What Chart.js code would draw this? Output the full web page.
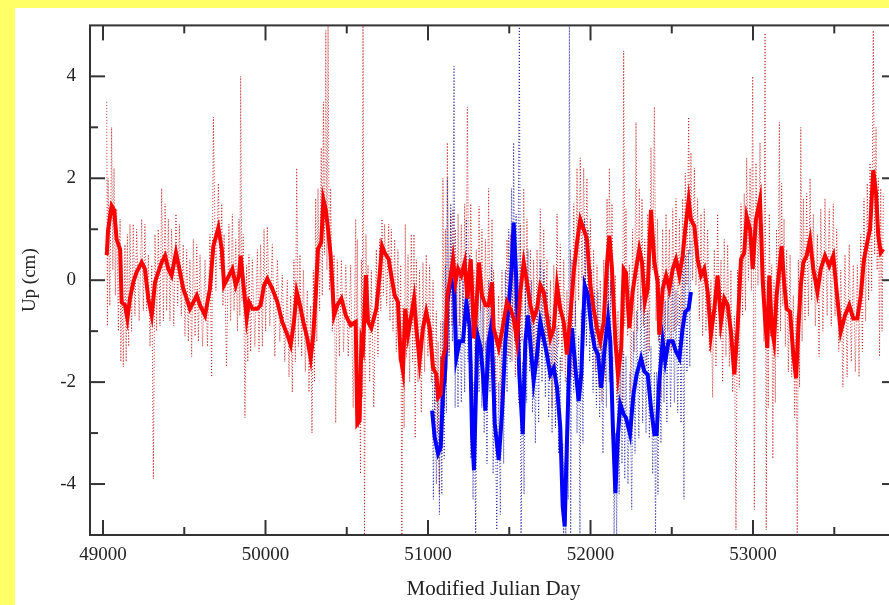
<!DOCTYPE html>
<html>
<head>
<meta charset="utf-8">
<script src="https://cdn.jsdelivr.net/npm/chart.js@4.4.1/dist/chart.umd.min.js"></script>
<style>
    html, body { margin: 0; padding: 0; width: 889px; height: 605px; overflow: hidden; background: #ffff66; }
    #panel { position: absolute; left: 15px; top: 8px; width: 895px; height: 597px; background: #ffffff; }
</style>
</head>
<body>
<div id="panel"><canvas id="upChart"></canvas></div>
<script>
// smoothed Up series (red), MJD / cm
const redDays = [
    49023, 49031, 49053, 49068, 49084, 49105, 49115, 49135, 49150, 49166,
    49186, 49207, 49238, 49258, 49279, 49300, 49320, 49340, 49361, 49382,
    49402, 49422, 49449, 49470, 49494, 49515, 49535, 49556, 49577, 49597,
    49628, 49658, 49679, 49710, 49731, 49745, 49775, 49796, 49817, 49837,
    49847, 49863, 49884, 49898, 49919, 49950, 49970, 49991, 50011, 50042,
    50073, 50103, 50134, 50155, 50175, 50192, 50212, 50233, 50257, 50278,
    50294, 50309, 50323, 50343, 50356, 50371, 50385, 50401, 50422, 50442,
    50467, 50494, 50524, 50555, 50565, 50579, 50590, 50600, 50618, 50631,
    50651, 50682, 50702, 50717, 50733, 50758, 50774, 50795, 50815, 50832,
    50846, 50860, 50877, 50897, 50914, 50928, 50948, 50969, 50989, 51010,
    51031, 51051, 51062, 51078, 51092, 51107, 51119, 51140, 51154, 51169,
    51185, 51205, 51226, 51242, 51263, 51283, 51297, 51314, 51332, 51353,
    51373, 51394, 51404, 51435, 51455, 51486, 51507, 51527, 51548, 51568,
    51589, 51609, 51630, 51650, 51671, 51691, 51712, 51732, 51753, 51774,
    51794, 51814, 51835, 51855, 51876, 51897, 51917, 51937, 51958, 51978,
    51999, 52019, 52040, 52060, 52081, 52102, 52116, 52132, 52153, 52169,
    52189, 52204, 52218, 52239, 52259, 52280, 52300, 52317, 52334, 52352,
    52372, 52393, 52413, 52423, 52444, 52465, 52485, 52506, 52526, 52547,
    52567, 52583, 52604, 52618, 52639, 52659, 52680, 52700, 52721, 52741,
    52762, 52782, 52803, 52823, 52844, 52864, 52885, 52905, 52926, 52946,
    52961, 52982, 52998, 53018, 53043, 53060, 53074, 53088, 53100, 53115,
    53129, 53145, 53162, 53176, 53191, 53207, 53228, 53248, 53265, 53279,
    53294, 53310, 53330, 53351, 53371, 53396, 53417, 53443, 53469, 53494,
    53515, 53540, 53566, 53592, 53617, 53642, 53663, 53683, 53703, 53720,
    53740, 53757, 53771, 53786, 53802
];
const redUp = [
    0.49, 0.97, 1.46, 1.38, 0.80, 0.61, -0.43, -0.49, -0.75, -0.36,
    -0.04, 0.16, 0.35, 0.22, -0.36, -0.69, -0.04, 0.16, 0.35, 0.48,
    0.22, 0.09, 0.54, 0.22, -0.17, -0.36, -0.56, -0.43, -0.30, -0.49,
    -0.69, -0.17, 0.67, 1.03, 0.61, -0.10, 0.09, 0.22, -0.10, 0.09,
    0.48, -0.04, -0.75, -0.43, -0.56, -0.56, -0.49, -0.10, 0.03, -0.17,
    -0.43, -0.82, -1.07, -1.27, -0.82, -0.23, -0.49, -0.82, -1.14, -1.53,
    -1.07, -0.30, 0.61, 0.74, 1.58, 1.38, 1.00, 0.48, -0.69, -0.49,
    -0.36, -0.69, -0.88, -0.82, -2.82, -2.76, -1.20, -1.33, 0.10, -0.82,
    -0.94, -0.56, 0.09, 0.67, 0.54, 0.41, 0.09, -0.30, -0.43, -1.53,
    -1.79, -0.56, -1.07, -0.69, -0.36, -0.94, -1.59, -0.94, -0.62, -0.94,
    -1.72, -1.85, -2.30, -2.24, -1.53, -1.33, -0.30, 0.09, 0.41, -0.04,
    0.22, 0.09, 0.35, -0.36, 0.41, -1.14, -0.56, 0.35, -0.30, -0.49,
    -0.49, -0.04, -0.94, -1.33, -1.01, -0.43, -0.56, -0.75, -1.20, -0.23,
    0.35, -0.04, -0.49, -0.75, -0.56, -0.10, -0.23, -0.69, -1.14, -0.94,
    -0.10, -0.56, -0.82, -1.46, -0.69, 0.16, 0.74, 1.19, 1.00, 0.80,
    -0.10, -0.56, -0.94, -1.20, -0.82, 0.35, 0.87, 0.22, -1.20, -1.85,
    -1.33, 0.22, 0.15, -0.94, -0.23, 0.22, 0.61, 0.35, -0.43, -0.17,
    1.38, 0.35, -0.04, -1.07, -0.17, 0.09, -0.17, 0.22, 0.41, 0.09,
    0.48, 1.00, 1.58, 1.19, 1.06, 0.41, 0.09, 0.22, -0.23, -1.07,
    -0.56, 0.09, -0.82, -0.36, -0.49, -1.01, -1.85, -0.94, 0.41, 0.54,
    1.25, 1.00, 0.22, 1.19, 1.58, -0.04, -0.75, -1.33, 0.09, -0.94,
    -1.20, -0.30, 0.22, 0.67, -0.04, -0.56, -0.62, -1.46, -1.92, -0.94,
    -0.10, 0.35, 0.48, 0.80, 0.22, -0.23, 0.22, 0.48, 0.28, 0.48,
    -0.23, -1.01, -0.69, -0.49, -0.75, -0.75, -0.30, 0.41, 0.74, 1.00,
    2.16, 1.71, 0.87, 0.54, 0.61
];
// daily scatter of the red series: upper and lower excursions
const redHi = [
    3.5, 2.0, 3.0, 2.2, 1.4, 1.2, 0.6, 0.7, 0.9, 1.1,
    1.1, 1.0, 1.2, 1.1, 0.5, 0.3, 0.9, 1.0, 1.8, 1.5,
    1.2, 1.0, 1.3, 1.1, 0.7, 0.6, 0.4, 0.8, 0.7, 0.5,
    0.4, 0.9, 3.2, 1.9, 1.5, 0.9, 1.1, 1.3, 0.8, 1.2,
    4.0, 0.9, 0.3, 0.5, 0.4, 0.6, 0.7, 1.0, 1.05, 0.7,
    0.4, 0.1, 0.0, -0.3, 0.4, 2.2, 0.5, 0.2, -0.2, -0.5,
    0.2, 1.6, 1.8, 2.6, 3.5, 4.9, 5.0, 1.8, 0.5, 0.4,
    0.4, 0.3, 0.3, 1.2, 0.8, -1.5, 0.4, 5.0, 0.9, 0.3,
    0.2, 0.6, 0.8, 1.2, 1.1, 1.1, 1.0, 0.8, 0.6, 0.3,
    -0.5, 1.1, 0.5, 0.9, 0.9, 0.4, 0.2, 0.35, 0.5, 0.3,
    0.0, -0.6, -1.2, -0.8, 2.0, 1.0, 2.7, 1.3, 1.4, 1.0,
    1.3, 1.1, 1.5, 3.4, 1.5, 0.2, 0.6, 1.45, 1.0, 0.8,
    1.8, 1.2, 0.2, -0.3, 0.2, 0.8, 0.9, 0.5, 0.2, 1.1,
    1.8, 1.2, 0.6, 0.4, 0.6, 1.4, 1.0, 0.4, 0.0, 0.3,
    1.3, 0.7, 0.4, -0.2, 0.6, 1.5, 2.2, 2.4, 2.2, 2.0,
    1.2, 0.6, 0.3, 0.0, 0.4, 1.6, 2.2, 1.5, 0.1, -0.6,
    -0.2, 4.5, 1.4, 0.3, 1.0, 3.1, 1.8, 1.6, 0.8, 1.3,
    2.6, 3.4, 1.2, 0.1, 1.0, 1.3, 1.0, 1.4, 1.6, 1.2,
    1.6, 2.1, 3.2, 2.5, 2.2, 1.6, 1.3, 1.4, 1.0, 0.0,
    0.6, 1.3, 0.4, 0.8, 0.7, 0.2, -0.7, 0.2, 1.5, 1.7,
    2.4, 2.2, 4.0, 2.3, 2.7, 1.1, 4.85, 0.0, 1.3, 0.3,
    0.0, 1.0, 3.1, 1.9, 1.2, 0.6, 0.5, -0.3, -0.7, 0.4,
    3.0, 1.6, 1.7, 2.0, 1.3, 0.9, 1.4, 1.6, 1.4, 1.5,
    1.0, 0.2, 0.5, 0.7, 0.3, 0.3, 0.9, 1.6, 1.9, 2.3,
    4.9, 3.0, 2.0, 1.8, 1.7
];
const redLo = [
    -0.9, -0.5, 0.2, -0.3, -1.0, -1.6, -1.7, -1.6, -1.3, -1.0,
    -0.7, -0.8, -0.6, -0.6, -1.3, -3.9, -1.0, -0.9, -0.8, -0.6,
    -0.8, -0.9, -0.5, -0.7, -1.1, -1.2, -1.5, -1.1, -1.2, -1.3,
    -1.3, -1.9, -0.2, 0.2, -0.5, -1.7, -0.8, -0.6, -1.0, -0.7,
    -0.4, -2.7, -1.6, -1.4, -1.3, -1.4, -1.3, -1.0, -0.9, -1.5,
    -1.2, -1.6, -1.9, -2.2, -1.6, -1.3, -1.5, -1.8, -2.2, -3.0,
    -2.0, -1.2, -0.6, -0.3, 0.5, 0.2, -0.2, -1.0, -2.8, -1.5,
    -1.4, -1.5, -2.5, -1.8, -2.9, -3.8, -2.3, -5.0, -0.8, -2.0,
    -2.5, -1.5, -0.6, -0.3, -0.5, -0.8, -1.0, -1.4, -1.6, -5.0,
    -2.9, -1.5, -2.0, -1.6, -3.1, -2.0, -2.6, -1.8, -1.5, -2.0,
    -2.8, -3.0, -4.2, -3.4, -2.5, -2.0, -1.4, -0.9, -0.8, -1.2,
    -0.9, -1.1, -0.9, -1.3, -0.7, -2.3, -1.6, -0.6, -1.4, -1.7,
    -1.6, -1.5, -2.5, -2.6, -2.1, -1.5, -1.6, -1.9, -2.4, -1.2,
    -0.9, -1.2, -1.6, -1.9, -1.7, -1.2, -1.4, -1.9, -2.5, -2.1,
    -1.3, -1.8, -2.0, -2.7, -1.9, -0.9, -0.4, 0.0, -0.2, -0.6,
    -1.2, -1.8, -2.1, -2.4, -2.0, -0.8, -0.3, -1.0, -2.4, -3.2,
    -2.6, -0.9, -1.1, -2.2, -1.4, -1.0, -0.6, -0.9, -1.7, -1.4,
    0.2, -0.8, -1.2, -2.3, -1.3, -1.0, -1.4, -1.0, -0.9, -1.2,
    -0.7, -0.1, 0.5, 0.0, -0.1, -0.8, -1.1, -1.0, -1.4, -2.3,
    -1.7, -1.1, -2.0, -1.5, -1.7, -2.2, -4.9, -2.1, -0.7, -0.6,
    0.0, -0.2, -4.5, -0.1, 0.4, -1.2, -4.9, -2.5, -1.1, -3.5,
    -2.4, -1.5, -1.0, -0.5, -1.3, -1.8, -1.9, -2.7, -5.0, -2.1,
    -1.2, -0.8, -0.7, -0.4, -0.9, -1.5, -1.0, -0.7, -0.9, -0.7,
    -1.4, -2.1, -1.9, -1.6, -1.8, -1.9, -1.4, -0.8, -0.4, -0.2,
    0.5, 0.2, -1.5, -1.0, -0.5
];

// second series (blue), shorter span
const blueDays = [
    51025, 51041, 51062, 51078, 51092, 51107, 51119, 51140, 51160, 51174,
    51195, 51215, 51236, 51257, 51271, 51283, 51304, 51324, 51338, 51353,
    51373, 51390, 51411, 51435, 51455, 51476, 51497, 51514, 51527, 51542,
    51562, 51583, 51599, 51615, 51636, 51650, 51671, 51691, 51712, 51732,
    51753, 51774, 51794, 51814, 51829, 51841, 51855, 51870, 51886, 51907,
    51927, 51943, 51964, 51985, 52005, 52026, 52046, 52066, 52087, 52108,
    52122, 52137, 52153, 52169, 52183, 52204, 52218, 52243, 52264, 52284,
    52311, 52331, 52352, 52372, 52393, 52407, 52423, 52444, 52460, 52480,
    52506, 52526, 52547, 52567, 52583, 52604, 52618
];
const blueUp = [
    -2.56, -3.08, -3.40, -3.28, -2.24, -1.72, -0.43, 0.03, -0.17, -1.53,
    -1.20, -1.20, -0.43, -0.94, -3.02, -3.73, -1.07, -1.33, -1.85, -2.56,
    -1.20, -0.88, -2.82, -3.53, -2.63, -1.20, -0.49, 0.22, 1.13, 0.09,
    -1.85, -3.02, -1.20, -0.69, -1.46, -1.98, -1.46, -0.82, -1.14, -1.46,
    -1.85, -1.72, -2.11, -2.89, -4.44, -4.83, -3.15, -1.53, -0.94, -1.72,
    -2.37, -1.85, -0.10, -0.30, -0.94, -1.33, -1.46, -2.11, -1.33, -0.75,
    -1.20, -2.82, -4.18, -3.02, -2.43, -2.63, -2.70, -3.02, -2.24, -1.85,
    -1.53, -1.79, -1.85, -2.50, -3.02, -3.02, -1.98, -1.20, -1.59, -1.20,
    -1.20, -1.40, -1.53, -0.94, -0.62, -0.56, -0.23
];
const blueHi = [
    -1.0, -1.8, -2.0, -1.5, -0.8, 0.3, 2.0, 1.5, 4.2, 0.2,
    0.2, 0.0, 1.2, 0.5, -1.6, -2.0, 0.3, 0.0, -0.5, -1.2,
    0.0, 0.3, -1.5, -2.0, -1.0, 0.2, 1.0, 1.8, 2.7, 1.3,
    5.0, -1.6, 0.0, 0.6, 0.0, -0.8, -0.3, 0.4, 0.2, -0.2,
    -0.7, -0.5, -0.9, -1.5, -3.2, -3.6, -1.9, 5.0, 0.4, -0.4,
    -1.1, -0.6, 1.2, 1.0, 0.2, -0.2, -0.2, -0.9, 0.0, 0.5,
    0.0, -1.5, -3.0, -1.8, -1.2, -1.4, -1.5, -1.8, -1.0, -0.6,
    -0.3, -0.6, -0.6, -1.3, -1.8, -1.8, -0.8, 0.0, -0.4, 0.0,
    0.0, -0.2, -0.3, 0.2, 0.5, 0.6, 0.8
];
const blueLo = [
    -4.3, -4.0, -4.6, -4.2, -3.5, -2.6, -1.5, -1.2, -2.5, -2.5,
    -2.4, -2.2, -1.6, -3.5, -4.3, -5.0, -2.2, -2.5, -3.0, -3.6,
    -2.2, -3.8, -4.9, -4.6, -3.6, -2.2, -1.6, -0.8, -1.2, -1.2,
    -5.0, -4.2, -2.4, -1.8, -2.6, -3.2, -2.8, -2.0, -2.3, -2.7,
    -3.0, -2.9, -3.4, -4.5, -5.0, -5.0, -4.3, -5.0, -2.2, -3.0,
    -5.0, -3.2, -1.3, -1.6, -2.2, -2.5, -2.7, -3.4, -2.5, -2.0,
    -2.4, -5.0, -5.0, -4.2, -3.6, -3.9, -4.0, -4.5, -3.4, -3.1,
    -2.8, -3.0, -3.1, -3.8, -5.0, -4.2, -3.2, -2.4, -2.8, -2.5,
    -2.4, -2.6, -2.8, -4.3, -1.8, -1.7, -1.2
];

// tick positions and the ones that carry a label
const xTickDays = [49000, 49500, 50000, 50500, 51000, 51500, 52000, 52500, 53000, 53500];
const xLabels = [49000, 50000, 51000, 52000, 53000];
const yLabels = [-4, -2, 0, 2, 4];

const serif = "'Liberation Serif', 'DejaVu Serif', serif";

function pairs(days, vals) {
    return days.map((d, i) => ({ x: d, y: vals[i] }));
}

// scatter line: high value on the day, low value half way to the next one
function scatter(days, hi, lo) {
    const pts = [];
    for (let i = 0; i < days.length; i++) {
        pts.push({ x: days[i], y: hi[i] });
        if (i < days.length - 1) {
            pts.push({ x: (days[i] + days[i + 1]) / 2, y: lo[i] });
        }
    }
    return pts;
}

// box frame with inward ticks on all four sides
const frameTicks = {
    id: 'frameTicks',
    afterDatasetsDraw(chart) {
        const { ctx, chartArea: a, scales } = chart;
        const line = (x1, y1, x2, y2) => {
            ctx.beginPath();
            ctx.moveTo(x1, y1);
            ctx.lineTo(x2, y2);
            ctx.stroke();
        };
        ctx.save();
        ctx.strokeStyle = '#333333';
        ctx.lineWidth = 2;
        ctx.strokeRect(a.left, a.top, a.right - a.left, a.bottom - a.top);
        scales.x.ticks.forEach(t => {
            const px = scales.x.getPixelForValue(t.value);
            const len = t.value % 1000 === 0 ? 15 : 8;
            line(px, a.bottom, px, a.bottom - len);
            line(px, a.top, px, a.top + len);
        });
        scales.y.ticks.forEach(t => {
            if (Math.abs(t.value) >= 5) return;
            const py = scales.y.getPixelForValue(t.value);
            const len = t.value % 2 === 0 ? 15 : 8;
            line(a.left, py, a.left + len, py);
            line(a.right, py, a.right - len, py);
        });
        ctx.restore();
    }
};

document.addEventListener('DOMContentLoaded', () => {
    const ctx = document.getElementById('upChart').getContext('2d');
    new Chart(ctx, {
        type: 'line',
        data: {
            datasets: [
                {
                    label: 'red smoothed',
                    data: pairs(redDays, redUp),
                    borderColor: '#ff0000',
                    borderWidth: 4
                },
                {
                    label: 'blue smoothed',
                    data: pairs(blueDays, blueUp),
                    borderColor: '#0000ff',
                    borderWidth: 4
                },
                {
                    label: 'blue daily',
                    data: scatter(blueDays, blueHi, blueLo),
                    borderColor: 'rgba(20,20,150,0.9)',
                    borderWidth: 1,
                    borderDash: [1, 2]
                },
                {
                    label: 'red daily',
                    data: scatter(redDays, redHi, redLo),
                    borderColor: 'rgba(190,20,20,0.9)',
                    borderWidth: 1,
                    borderDash: [1, 2]
                }
            ]
        },
        options: {
            responsive: true,
            maintainAspectRatio: false,
            animation: false,
            layout: { padding: { left: 0, top: 13, right: 13, bottom: 0 } },
            elements: {
                point: { radius: 0 },
                line: { tension: 0, fill: false }
            },
            plugins: {
                legend: { display: false },
                tooltip: { enabled: false }
            },
            scales: {
                x: {
                    type: 'linear',
                    min: 48920,
                    max: 53886,
                    grid: { display: false },
                    border: { display: false },
                    afterBuildTicks: s => { s.ticks = xTickDays.map(v => ({ value: v })); },
                    ticks: {
                        autoSkip: false,
                        maxRotation: 0,
                        padding: 1,
                        color: '#222',
                        font: { family: serif, size: 19 },
                        callback: v => xLabels.includes(v) ? String(v) : ''
                    },
                    title: {
                        display: true,
                        text: 'Modified Julian Day',
                        color: '#222',
                        font: { family: serif, size: 21 },
                        padding: { top: 0, bottom: 3 }
                    },
                    afterFit: s => { s.height = 70; }
                },
                y: {
                    min: -5,
                    max: 5,
                    grid: { display: false },
                    border: { display: false },
                    ticks: {
                        stepSize: 1,
                        autoSkip: false,
                        padding: 6,
                        color: '#222',
                        font: { family: serif, size: 19 },
                        callback: v => yLabels.includes(v) ? String(v) : ''
                    },
                    title: {
                        display: true,
                        text: 'Up (cm)',
                        color: '#222',
                        font: { family: serif, size: 19 },
                        padding: { top: 4, bottom: 0 }
                    },
                    afterFit: s => { s.width = 75; }
                }
            }
        },
        plugins: [frameTicks]
    });
});
</script>
</body>
</html>
